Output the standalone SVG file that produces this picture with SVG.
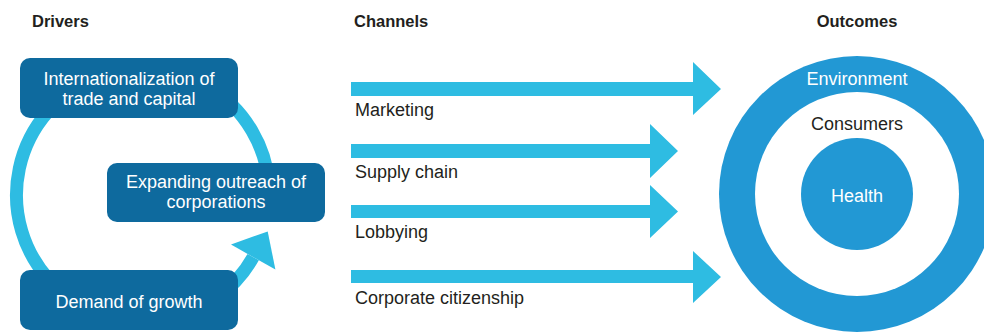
<svg xmlns="http://www.w3.org/2000/svg" width="984" height="333" viewBox="0 0 984 333">
<style>
.hdr{font-family:"Liberation Sans",Arial,sans-serif;font-weight:bold;font-size:16.5px;fill:#231F20}
.lbl{font-family:"Liberation Sans",Arial,sans-serif;font-size:18px;fill:#231F20}
.wt{font-family:"Liberation Sans",Arial,sans-serif;font-size:18px;fill:#FFFFFF;text-anchor:middle}
.box{fill:#0E6A9E}
.arr{fill:#2EBCE2}
.ring{fill:#2298D4}
</style>
<rect width="984" height="333" fill="#FFFFFF"/>
<g id="headers">
<text class="hdr" x="32" y="27">Drivers</text>
<text class="hdr" x="354" y="27">Channels</text>
<text class="hdr" x="857" y="27" text-anchor="middle">Outcomes</text>
</g>
<g id="connectors">
<path d="M253.2,257.1 A126.5,126.5 0 1 1 269,184" fill="none" stroke="#2EBCE2" stroke-width="13"/>
<polygon class="arr" points="275.4,269.6 231,244.6 267.7,231.4"/>
<g id="ch-marketing">
<polygon class="arr" points="351,82 693,82 693,62 721,89 693,115 693,96 351,96"/>
<text class="lbl" x="355" y="116">Marketing</text>
</g>
<g id="ch-supply">
<polygon class="arr" points="351,144 650,144 650,124 678,151 650,178 650,158 351,158"/>
<text class="lbl" x="355" y="178">Supply chain</text>
</g>
<g id="ch-lobbying">
<polygon class="arr" points="351,205 650,205 650,185 678,211.5 650,238 650,218 351,218"/>
<text class="lbl" x="355" y="238">Lobbying</text>
</g>
<g id="ch-citizenship">
<polygon class="arr" points="351,270 693,270 693,251 721,277 693,303 693,283 351,283"/>
<text class="lbl" x="355" y="304">Corporate citizenship</text>
</g>
</g>
<g id="internationalization">
<rect class="box" x="20" y="58" width="218" height="60" rx="10"/>
<text class="wt" x="129" y="85">Internationalization of</text>
<text class="wt" x="129" y="105">trade and capital</text>
</g>
<g id="expanding">
<rect class="box" x="107" y="163" width="218" height="59" rx="10"/>
<text class="wt" x="216" y="188">Expanding outreach of</text>
<text class="wt" x="216" y="208">corporations</text>
</g>
<g id="demand">
<rect class="box" x="20" y="270" width="218" height="60" rx="10"/>
<text class="wt" x="129" y="308">Demand of growth</text>
</g>
<g id="environment">
<circle class="ring" cx="857" cy="194" r="138"/>
<circle cx="857" cy="194" r="102" fill="#FFFFFF"/>
<text class="wt" x="857" y="85">Environment</text>
</g>
<g id="consumers">
<text class="lbl" x="857" y="130" text-anchor="middle">Consumers</text>
</g>
<g id="health">
<circle class="ring" cx="857" cy="194" r="56"/>
<text class="wt" x="857" y="202">Health</text>
</g>
</svg>
